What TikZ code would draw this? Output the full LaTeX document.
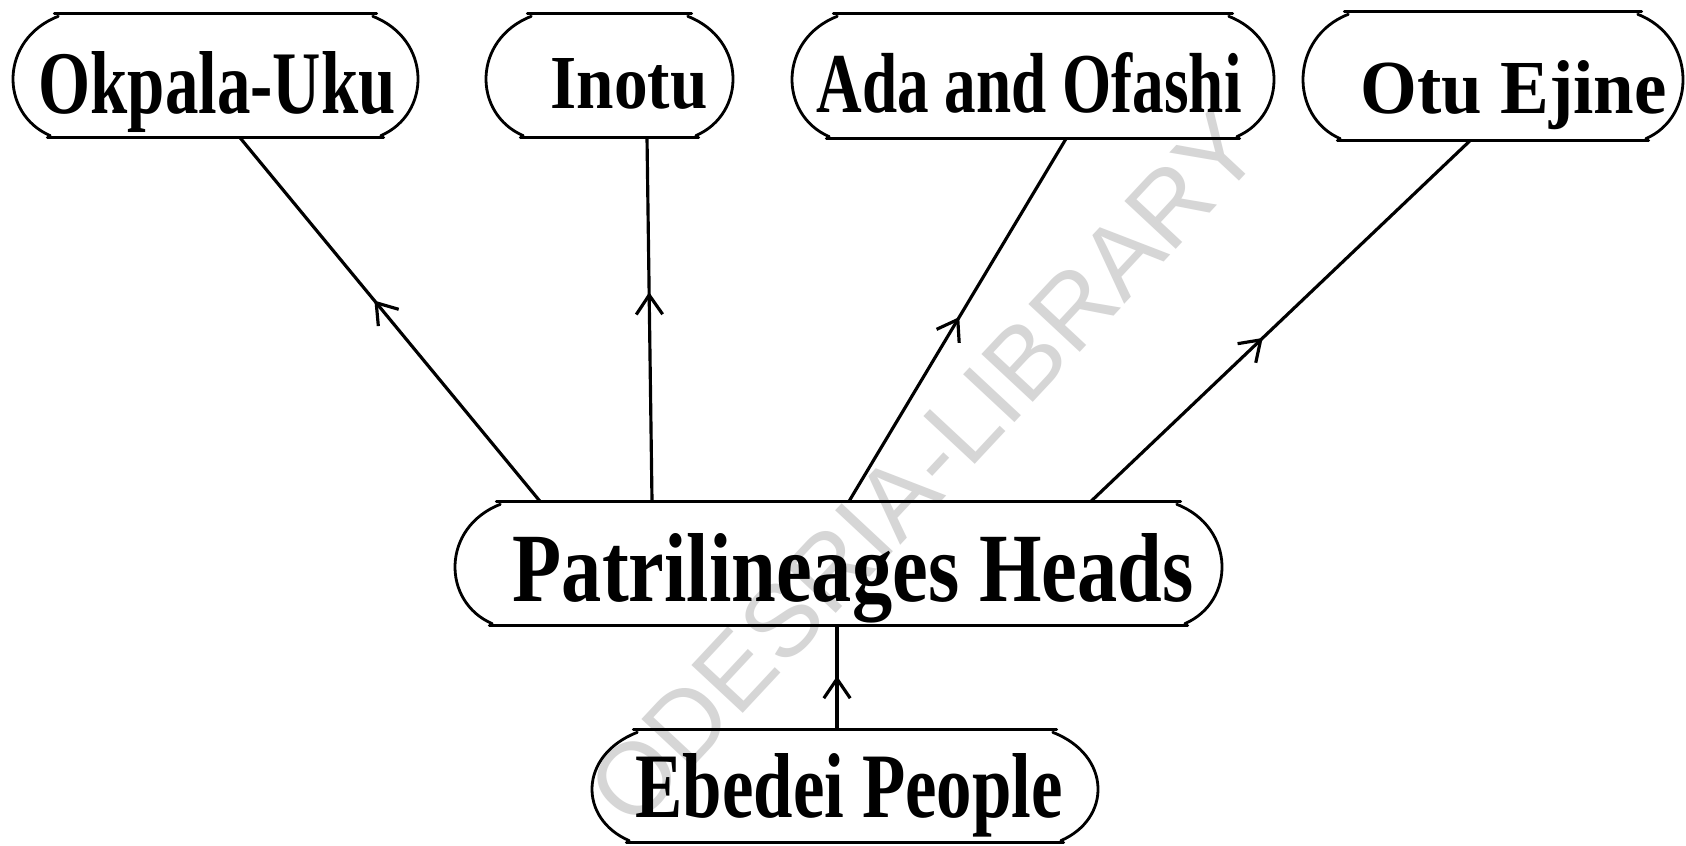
\documentclass[tikz,border=0pt]{standalone}
\usepackage{fontspec}
\setmainfont{Liberation Serif}
\newfontfamily\wmfont{Liberation Sans}
\usepackage{graphicx}
\usetikzlibrary{arrows.meta,decorations.markings,fit,calc}

\newdimen\pxu
\pxu=0.01cm

\tikzset{
  boxline/.style={line width=0.8pt, line cap=round},
  frame/.style={inner sep=0pt, draw=none},
  lbltext/.style={inner sep=0pt, anchor=base west, font=\bfseries},
  conn/.style={line width=0.9pt},
  tipat/.style={postaction={decorate}, decoration={markings,
      mark=at position #1 with {\arrow{Straight Barb[length=5.5pt,width=7.5pt,line width=0.9pt]}}}},
  watermark/.style={inner sep=0pt, text=black!16, font=\wmfont\fontsize{29}{29}\selectfont}
}

% rounded capsule outline around a frame node: flat top and bottom,
% bulging sides with small ears where they meet the flat edges
\newcommand\capsule[1]{%
  \draw[boxline] ($(#1.north west)+(42,0)$) -- ($(#1.north east)+(-42,0)$)
                 ($(#1.south west)+(35,0)$) -- ($(#1.south east)+(-35,0)$);
  \draw[boxline] ($(#1.north west)+(46,3)$)
     .. controls ($(#1.north west)+(-13,26)$) and ($(#1.south west)+(-13,-24)$)
     .. ($(#1.south west)+(38,-2)$);
  \draw[boxline] ($(#1.north east)+(-46,3)$)
     .. controls ($(#1.north east)+(13,26)$) and ($(#1.south east)+(13,-24)$)
     .. ($(#1.south east)+(-38,-2)$);
}

% label: name, left x, baseline y, width, height, text
\newcommand\lbl[6]{%
  \node[lbltext] (#1) at (#2,#3) {\resizebox{#4\pxu}{#5\pxu}{#6}};
}

\begin{document}
\begin{tikzpicture}[x=0.01cm, y=-0.01cm]
  \useasboundingbox (0,0) rectangle (1686,845);
  \fill[white] (0,0) rectangle (1686,845);

  % library stamp behind the chart
  \node[watermark, rotate=47] (wm) at (924,468) {ODESRIA-LIBRARY};

  % frames
  \node[frame, fit={(13,14) (418,137)}]   (okp) {};
  \node[frame, fit={(486,14) (733,137)}]  (ino) {};
  \node[frame, fit={(792,14) (1274,138)}] (ada) {};
  \node[frame, fit={(1303,12) (1683,140)}] (otu) {};
  \node[frame, fit={(455,502) (1222,625)}] (pat) {};
  \node[frame, fit={(592,730) (1098,842)}] (ebe) {};

  \capsule{okp}
  \capsule{ino}
  \capsule{ada}
  \capsule{otu}
  \capsule{pat}
  \capsule{ebe}

  % labels
  \lbl{okpt}{38}{113}{357}{62}{Okpala-Uku}
  \lbl{inot}{550}{108}{157}{50}{Inotu}
  \lbl{adat}{816}{112}{425}{60}{Ada and Ofashi}
  \lbl{otut}{1360}{113}{306}{53}{Otu Ejine}
  \lbl{patt}{512}{601}{681}{68}{Patrilineages Heads}
  \lbl{ebet}{635}{817}{427}{64}{Ebedei People}

  % connectors, each with an open head part way up
  \draw[conn, tipat=0.552] (pat.north -| 540,0)  -- (okp.south -| 240,0);
  \draw[conn, tipat=0.575] (pat.north -| 652,0)  -- (ino.south -| 647,0);
  \draw[conn, tipat=0.508] (pat.north -| 849,0)  -- (ada.south -| 1066,0);
  \draw[conn, tipat=0.453] (pat.north -| 1091,0) -- (otu.south -| 1470,0);
  \draw[conn, tipat=0.514] (ebe.north -| 837,0)  -- (pat.south -| 837,0);
\end{tikzpicture}
\end{document}
